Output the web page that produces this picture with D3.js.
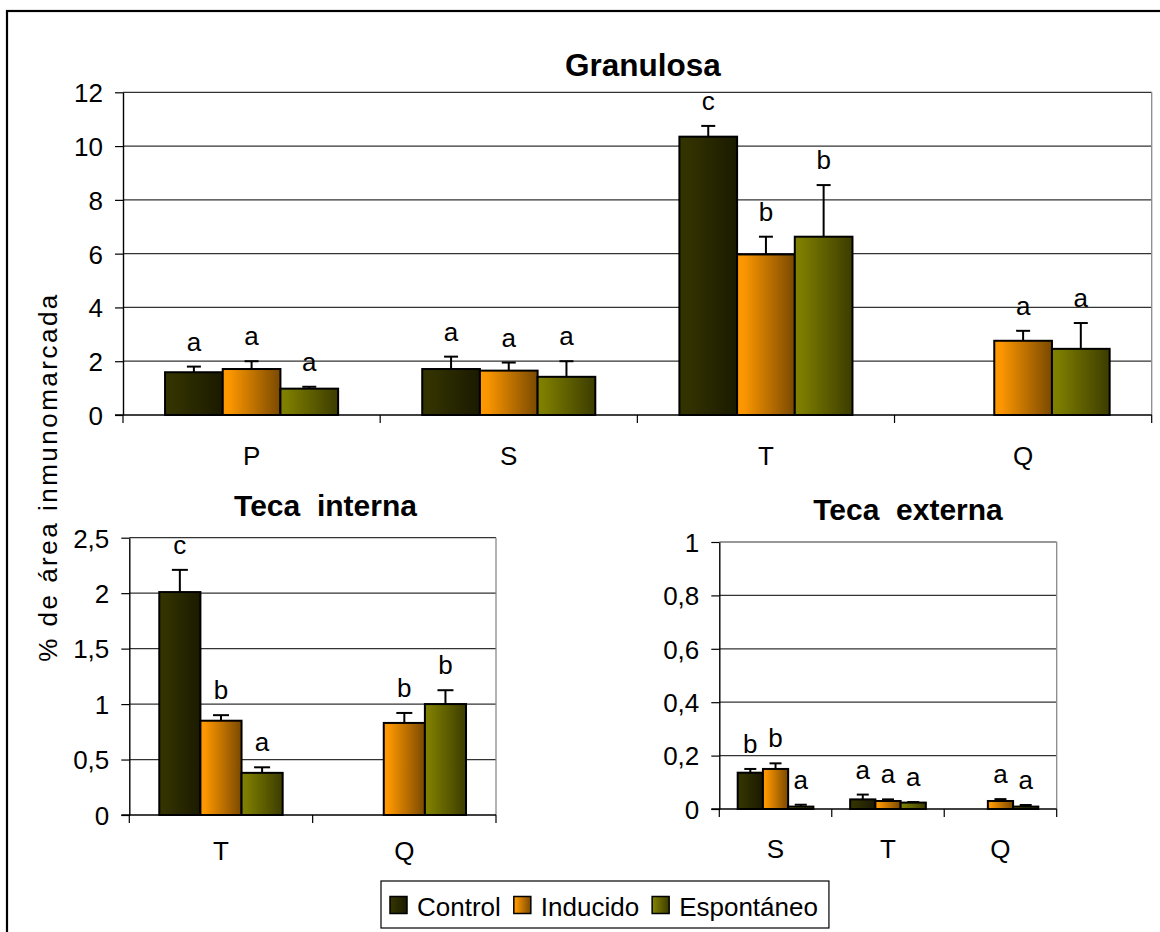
<!DOCTYPE html>
<html>
<head>
<meta charset="utf-8">
<script src="https://cdn.jsdelivr.net/npm/d3@7"></script>
<style>
  html, body { margin: 0; padding: 0; background: #fff; }
  svg { display: block; }
  text { font-family: "Liberation Sans", Arial, sans-serif; fill: #000; }
</style>
</head>
<body>
<svg id="chart" width="1160" height="932"></svg>
<script>
// Series shared by the three panels
const seriesNames = ["Control", "Inducido", "Espontáneo"];

// Granulosa
const granulosaCats = ["P", "S", "T", "Q"];
const granulosaControl = [1.59, 1.71, 10.35, null];
const granulosaInducido = [1.71, 1.65, 5.97, 2.76];
const granulosaEspontaneo = [0.98, 1.42, 6.63, 2.46];
const granulosaErrControl = [0.21, 0.46, 0.40, null];
const granulosaErrInducido = [0.29, 0.30, 0.66, 0.37];
const granulosaErrEspontaneo = [0.07, 0.58, 1.92, 0.96];
const granulosaLetters = [["a", "a", "a"], ["a", "a", "a"], ["c", "b", "b"], [null, "a", "a"]];
const granulosaTicks = [0, 2, 4, 6, 8, 10, 12];

// Teca interna
const tecaInternaCats = ["T", "Q"];
const tecaInternaControl = [2.01, null];
const tecaInternaInducido = [0.85, 0.83];
const tecaInternaEspontaneo = [0.38, 1.00];
const tecaInternaErrControl = [0.20, null];
const tecaInternaErrInducido = [0.05, 0.09];
const tecaInternaErrEspontaneo = [0.05, 0.125];
const tecaInternaLetters = [["c", "b", "a"], [null, "b", "b"]];
const tecaInternaTicks = [0, 0.5, 1, 1.5, 2, 2.5];

// Teca externa
const tecaExternaCats = ["S", "T", "Q"];
const tecaExternaControl = [0.136, 0.036, null];
const tecaExternaInducido = [0.150, 0.030, 0.030];
const tecaExternaEspontaneo = [0.009, 0.024, 0.009];
const tecaExternaErrControl = [0.014, 0.018, null];
const tecaExternaErrInducido = [0.021, 0.006, 0.007];
const tecaExternaErrEspontaneo = [0.007, 0.002, 0.006];
const tecaExternaLetters = [["b", "b", "a"], ["a", "a", "a"], [null, "a", "a"]];
const tecaExternaTicks = [0, 0.2, 0.4, 0.6, 0.8, 1];

const FONT = 26;
const fmt = d3.formatLocale({ decimal: ",", thousands: ".", grouping: [3], currency: ["", "€"] }).format("~g");

const svg = d3.select("#chart");

// Horizontal shaded fills, light on the left darkening to the right
const gradStops = {
  "Control": ["#333300", "#333300", "#1a1a00"],
  "Inducido": ["#ff9900", "#fb9600", "#7a4900"],
  "Espontáneo": ["#808000", "#7c7c00", "#3c3c00"]
};
const defs = svg.append("defs");
seriesNames.forEach((s, i) => {
  const g = defs.append("linearGradient").attr("id", "grad" + i)
    .attr("x1", "0%").attr("x2", "100%").attr("y1", "0%").attr("y2", "0%");
  g.append("stop").attr("offset", "0%").attr("stop-color", gradStops[s][0]);
  g.append("stop").attr("offset", "12%").attr("stop-color", gradStops[s][1]);
  g.append("stop").attr("offset", "100%").attr("stop-color", gradStops[s][2]);
});

// Outer frame
svg.append("rect").attr("x", 7).attr("y", 11).attr("width", 1200).attr("height", 1000)
  .attr("fill", "none").attr("stroke", "#000").attr("stroke-width", 2.2);

function drawPanel(cfg) {
  const g = svg.append("g");
  const x = d3.scaleBand().domain(cfg.cats).range([cfg.left, cfg.right]).paddingInner(0).paddingOuter(0);
  const xs = d3.scaleBand().domain(seriesNames)
    .range([x.bandwidth() * 0.1635, x.bandwidth() * 0.8365]).padding(0);
  const y = d3.scaleLinear().domain([0, cfg.ticks[cfg.ticks.length - 1]]).range([cfg.bottom, cfg.top]);

  // gridlines
  g.append("g").selectAll("line").data(cfg.ticks.slice(1)).join("line")
    .attr("x1", cfg.left).attr("x2", cfg.right)
    .attr("y1", d => y(d)).attr("y2", d => y(d))
    .attr("stroke", "#333").attr("stroke-width", 1.2);

  // plot-area border (right edge)
  g.append("line").attr("x1", cfg.right).attr("x2", cfg.right)
    .attr("y1", cfg.top).attr("y2", cfg.bottom)
    .attr("stroke", "#8a8a8a").attr("stroke-width", 1.3);

  // rows of bars
  const rows = [];
  cfg.cats.forEach((c, i) => {
    seriesNames.forEach((s, j) => {
      const v = cfg.values[j][i];
      if (v == null) return;
      rows.push({ cat: c, series: s, si: j, v: v, e: cfg.errs[j][i], letter: cfg.letters[i][j] });
    });
  });

  g.append("g").selectAll("rect").data(rows).join("rect")
    .attr("x", d => x(d.cat) + xs(d.series))
    .attr("width", xs.bandwidth())
    .attr("y", d => y(d.v))
    .attr("height", d => y(0) - y(d.v))
    .attr("fill", d => "url(#grad" + d.si + ")")
    .attr("stroke", "#000").attr("stroke-width", 2);

  // upward error bars
  const eb = g.append("g").selectAll("g").data(rows.filter(d => d.e)).join("g")
    .attr("stroke", "#000").attr("stroke-width", 2);
  eb.append("line")
    .attr("x1", d => x(d.cat) + xs(d.series) + xs.bandwidth() / 2)
    .attr("x2", d => x(d.cat) + xs(d.series) + xs.bandwidth() / 2)
    .attr("y1", d => y(d.v)).attr("y2", d => y(d.v + d.e));
  eb.append("line")
    .attr("x1", d => x(d.cat) + xs(d.series) + xs.bandwidth() / 2 - cfg.cap)
    .attr("x2", d => x(d.cat) + xs(d.series) + xs.bandwidth() / 2 + cfg.cap)
    .attr("y1", d => y(d.v + d.e)).attr("y2", d => y(d.v + d.e));

  // significance letters
  g.append("g").selectAll("text").data(rows.filter(d => d.letter)).join("text")
    .attr("x", d => x(d.cat) + xs(d.series) + xs.bandwidth() / 2)
    .attr("y", d => y(d.v + (d.e || 0)) - 16)
    .attr("text-anchor", "middle")
    .attr("font-size", FONT)
    .text(d => d.letter);

  // y axis
  const ya = g.append("g").attr("transform", `translate(${cfg.left},0)`)
    .call(d3.axisLeft(y).tickValues(cfg.ticks).tickFormat(fmt).tickSize(8).tickSizeOuter(0).tickPadding(12));
  ya.attr("font-family", null).attr("font-size", null);
  ya.selectAll("text").attr("font-size", FONT).attr("font-family", '"Liberation Sans", Arial, sans-serif')
    .attr("fill", "#000").attr("dy", "0.36em");
  ya.selectAll("line").attr("stroke", "#000").attr("stroke-width", 1.2);
  ya.select(".domain").attr("stroke", "#000").attr("stroke-width", 1.4);

  // x axis line, boundary ticks and category labels
  g.append("line").attr("x1", cfg.left - 8).attr("x2", cfg.right)
    .attr("y1", cfg.bottom).attr("y2", cfg.bottom)
    .attr("stroke", "#000").attr("stroke-width", 1.4);
  const bounds = cfg.cats.map(c => x(c)).concat([cfg.right]);
  g.append("g").selectAll("line").data(bounds).join("line")
    .attr("x1", d => d).attr("x2", d => d)
    .attr("y1", cfg.bottom).attr("y2", cfg.bottom + 8)
    .attr("stroke", "#000").attr("stroke-width", 1.2);
  g.append("g").selectAll("text").data(cfg.cats).join("text")
    .attr("x", d => x(d) + x.bandwidth() / 2)
    .attr("y", cfg.bottom + cfg.catOffset)
    .attr("text-anchor", "middle")
    .attr("font-size", FONT)
    .text(d => d);

  // panel title
  g.append("text").attr("x", cfg.titleX).attr("y", cfg.titleY)
    .attr("text-anchor", "middle").attr("font-size", cfg.titleSize).attr("font-weight", "bold")
    .style("white-space", "pre")
    .text(cfg.title);
}

drawPanel({
  cats: granulosaCats,
  values: [granulosaControl, granulosaInducido, granulosaEspontaneo],
  errs: [granulosaErrControl, granulosaErrInducido, granulosaErrEspontaneo],
  letters: granulosaLetters, ticks: granulosaTicks,
  left: 123, right: 1151.7, top: 92.3, bottom: 415,
  cap: 7, catOffset: 50,
  title: "Granulosa", titleX: 643, titleY: 76, titleSize: 31.5
});

drawPanel({
  cats: tecaInternaCats,
  values: [tecaInternaControl, tecaInternaInducido, tecaInternaEspontaneo],
  errs: [tecaInternaErrControl, tecaInternaErrInducido, tecaInternaErrEspontaneo],
  letters: tecaInternaLetters, ticks: tecaInternaTicks,
  left: 129.3, right: 496, top: 537.7, bottom: 815,
  cap: 8, catOffset: 45,
  title: "Teca  interna", titleX: 325.5, titleY: 516, titleSize: 30
});

drawPanel({
  cats: tecaExternaCats,
  values: [tecaExternaControl, tecaExternaInducido, tecaExternaEspontaneo],
  errs: [tecaExternaErrControl, tecaExternaErrInducido, tecaExternaErrEspontaneo],
  letters: tecaExternaLetters, ticks: tecaExternaTicks,
  left: 719.3, right: 1056.7, top: 542, bottom: 809,
  cap: 6, catOffset: 49,
  title: "Teca  externa", titleX: 908, titleY: 520, titleSize: 30
});

// shared y-axis title
svg.append("text")
  .attr("transform", "translate(57,477) rotate(-90)")
  .attr("text-anchor", "middle")
  .attr("font-size", 26)
  .attr("letter-spacing", 2.5)
  .style("white-space", "pre")
  .text("% de área inmunomarcada");

// legend
const leg = svg.append("g");
const legBox = leg.append("rect").attr("y", 881).attr("height", 47).attr("x", 381)
  .attr("fill", "#fff").attr("stroke", "#000").attr("stroke-width", 1.2);
let lx = 390;
seriesNames.forEach((s, i) => {
  leg.append("rect").attr("x", lx).attr("y", 896.5).attr("width", 17).attr("height", 17)
    .attr("fill", "url(#grad" + i + ")").attr("stroke", "#000").attr("stroke-width", 1.5);
  const t = leg.append("text").attr("x", lx + 27).attr("y", 916).attr("font-size", FONT).text(s);
  const w = t.node().getComputedTextLength();
  lx = lx + 27 + w + 13;
});
legBox.attr("width", lx - 13 + 11 - 381);
</script>
</body>
</html>
